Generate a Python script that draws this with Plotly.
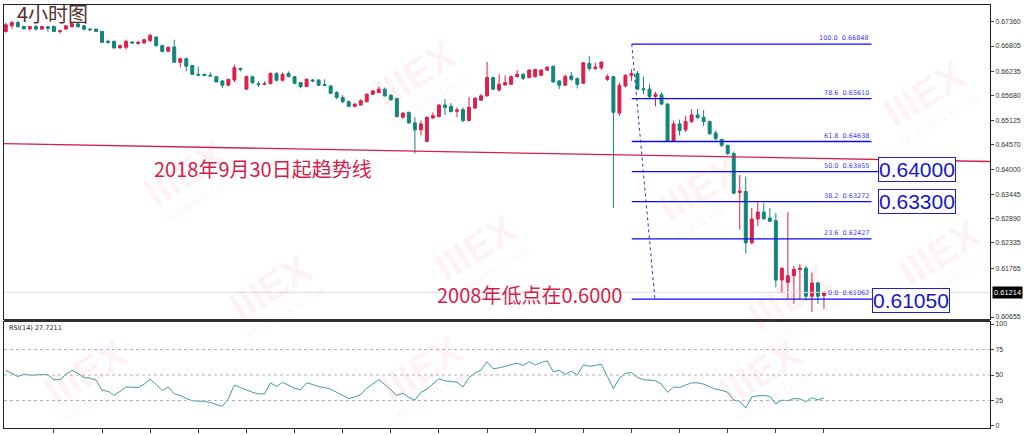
import plotly.graph_objects as go

# ---------------- data (4H candles, index 0..136) ----------------
open_ = [0.67136,0.67263,0.67338,0.67248,0.67196,0.67248,0.67189,0.67241,0.67248,0.67136,
         0.67189,0.67248,0.67308,0.67263,0.67189,0.67189,0.67136,0.66911,0.66911,0.66762,
         0.66776,0.66897,0.66865,0.66874,0.66926,0.67011,0.66814,0.66686,0.66785,0.66438,
         0.66515,0.66364,0.66162,0.66162,0.66139,0.66110,0.66012,0.65915,0.66034,0.66297,
         0.65825,0.66110,0.65952,0.65937,0.65952,0.66184,0.66027,0.66184,0.66110,0.65975,
         0.65886,0.66034,0.66034,0.65930,0.65899,0.65750,0.65638,0.65539,0.65436,0.65465,
         0.65539,0.65712,0.65750,0.65825,0.65690,0.65616,0.65189,0.65301,0.65060,0.64903,
         0.64640,0.65173,0.65202,0.65465,0.65436,0.65324,0.65360,0.65112,0.65398,0.65577,
         0.65674,0.66088,0.65809,0.65921,0.65937,0.66110,0.66162,0.66088,0.66110,0.66139,
         0.66259,0.66348,0.66012,0.65915,0.66124,0.66065,0.65960,0.66409,0.66297,0.66312,
         0.66050,0.66110,0.65285,0.65899,0.66139,0.66184,0.65836,0.65825,0.65660,0.65697,
         0.65487,0.64640,0.65038,0.64903,0.65090,0.65240,0.65189,0.65090,0.64829,0.64686,
         0.64551,0.64364,0.63481,0.63502,0.62340,0.62880,0.63037,0.62902,0.62842,0.61493,
         0.61441,0.61592,0.61733,0.61763,0.61126,0.61426,0.61141]
high = [0.67331,0.67376,0.67376,0.67263,0.67263,0.67286,0.67263,0.67263,0.67263,0.67174,
        0.67286,0.67331,0.67331,0.67286,0.67218,0.67196,0.67151,0.66949,0.66926,0.66836,
        0.66949,0.66904,0.66926,0.66971,0.67084,0.67017,0.66836,0.66791,0.66949,0.66544,
        0.66544,0.66370,0.66341,0.66184,0.66207,0.66117,0.66027,0.66060,0.66387,0.66319,
        0.66139,0.66139,0.66005,0.66005,0.66207,0.66207,0.66207,0.66229,0.66117,0.65982,
        0.66072,0.66050,0.66050,0.66050,0.65915,0.65780,0.65690,0.65577,0.65510,0.65600,
        0.65728,0.65809,0.65886,0.65863,0.65712,0.65625,0.65301,0.65310,0.65189,0.65112,
        0.65200,0.65301,0.65487,0.65600,0.65510,0.65413,0.65413,0.65652,0.65638,0.65712,
        0.66447,0.66110,0.66162,0.66139,0.66139,0.66259,0.66184,0.66274,0.66290,0.66274,
        0.66348,0.66356,0.66027,0.66162,0.66214,0.66088,0.66438,0.66573,0.66425,0.66461,
        0.66162,0.66124,0.65975,0.66162,0.66280,0.66237,0.66110,0.65937,0.65764,0.65750,
        0.65510,0.65112,0.65135,0.65224,0.65375,0.65375,0.65353,0.65112,0.64888,0.64701,
        0.64566,0.64409,0.63876,0.63840,0.63127,0.63255,0.63240,0.63127,0.63015,0.61778,
        0.63037,0.61816,0.61853,0.61816,0.61666,0.61456,0.61236]
low = [0.67106,0.67196,0.67218,0.67174,0.67151,0.67151,0.67174,0.67129,0.67129,0.67084,
       0.67174,0.67218,0.67218,0.67151,0.67151,0.67129,0.66881,0.66859,0.66746,0.66746,
       0.66724,0.66859,0.66836,0.66859,0.66904,0.66791,0.66656,0.66679,0.66431,0.66319,
       0.66229,0.66150,0.66117,0.66117,0.66117,0.65982,0.65847,0.65905,0.65982,0.66229,
       0.65814,0.65937,0.65870,0.65915,0.65937,0.66005,0.66005,0.66095,0.65937,0.65847,
       0.65870,0.65982,0.65905,0.65892,0.65712,0.65600,0.65510,0.65420,0.65413,0.65449,
       0.65524,0.65697,0.65728,0.65660,0.65562,0.65189,0.65150,0.65038,0.64364,0.64775,
       0.64626,0.65150,0.65189,0.65240,0.65301,0.65189,0.65076,0.65100,0.65375,0.65562,
       0.65660,0.65809,0.65764,0.65915,0.65915,0.66088,0.66034,0.66072,0.66088,0.66124,
       0.66237,0.65975,0.65825,0.65899,0.66012,0.65841,0.65944,0.66237,0.66259,0.66259,
       0.66012,0.63127,0.65224,0.65863,0.66012,0.65809,0.65712,0.65616,0.65436,0.65465,
       0.64626,0.64626,0.64775,0.64851,0.65060,0.65150,0.64986,0.64791,0.64663,0.64514,
       0.64326,0.63442,0.62639,0.62093,0.62302,0.62716,0.62857,0.62812,0.61329,0.61201,
       0.61066,0.60953,0.61066,0.61030,0.60767,0.60953,0.60841]
close = [0.67286,0.67338,0.67248,0.67196,0.67248,0.67189,0.67248,0.67207,0.67136,0.67151,
         0.67263,0.67308,0.67248,0.67189,0.67174,0.67136,0.66888,0.66888,0.66762,0.66814,
         0.66911,0.66874,0.66888,0.66949,0.67046,0.66814,0.66686,0.66776,0.66438,0.66515,
         0.66348,0.66162,0.66146,0.66139,0.66124,0.65989,0.65915,0.66050,0.66312,0.66274,
         0.66110,0.65975,0.65930,0.65952,0.66184,0.66027,0.66162,0.66110,0.65960,0.65886,
         0.66050,0.66012,0.65915,0.65915,0.65735,0.65638,0.65539,0.65436,0.65487,0.65562,
         0.65712,0.65787,0.65825,0.65674,0.65584,0.65202,0.65285,0.65060,0.64903,0.65038,
         0.65189,0.65224,0.65465,0.65413,0.65315,0.65353,0.65112,0.65413,0.65622,0.65674,
         0.66088,0.65825,0.65937,0.65975,0.66110,0.66162,0.66072,0.66259,0.66274,0.66259,
         0.66326,0.65989,0.65915,0.66110,0.66050,0.65937,0.66425,0.66297,0.66326,0.66438,
         0.66110,0.65301,0.65915,0.66139,0.66178,0.65825,0.65814,0.65660,0.65712,0.65487,
         0.64640,0.65038,0.64888,0.65090,0.65240,0.65180,0.65090,0.64813,0.64701,0.64551,
         0.64364,0.63464,0.63516,0.62340,0.62880,0.63037,0.62887,0.62828,0.61493,0.61763,
         0.61592,0.61740,0.61763,0.61126,0.61426,0.61126,0.61214]
rsi = [54.6,51.5,48.5,50.9,49.8,50.0,50.6,50.0,45.4,45.4,50.6,54.6,51.5,47.5,46.9,45.0,35.0,34.0,30.0,34.0,
       38.3,38.0,37.7,41.0,46.0,40.7,34.6,38.3,31.5,30.0,26.9,24.7,24.5,24.1,23.0,21.0,19.1,26.9,40.1,37.7,
       35.0,33.0,31.5,31.5,42.3,38.6,42.9,40.1,37.0,35.5,42.3,40.7,38.5,37.7,36.1,33.0,30.0,26.9,28.5,30.9,
       37.0,41.4,45.4,40.7,35.5,30.0,32.1,28.0,25.3,33.0,36.1,41.0,46.3,44.4,43.5,42.9,38.3,47.5,52.0,54.9,
       63.0,56.2,57.0,58.5,59.9,61.7,59.3,63.0,59.9,62.3,63.9,53.1,54.6,50.6,53.7,50.0,59.9,58.6,59.3,60.5,
       48.5,36.7,46.9,51.5,52.5,47.5,45.4,45.0,44.4,41.0,33.0,38.3,37.7,40.1,42.3,42.3,41.0,38.5,36.1,35.0,
       33.0,25.3,24.4,17.6,28.4,29.5,29.9,29.0,21.6,25.3,24.7,26.9,26.5,23.8,27.8,25.5,27.7]

price_ticks = [0.67360,0.66805,0.66235,0.65680,0.65125,0.64570,0.64000,0.63445,0.62890,0.62335,0.61765,0.60655]
price_tick_text = ["0.67360","0.66805","0.66235","0.65680","0.65125","0.64570","0.64000","0.63445",
                   "0.62890","0.62335","0.61765","0.60655"]
rsi_ticks = [0, 25, 50, 75, 100]
rsi_levels = [25, 50, 75]
current_price = 0.61214
rsi_last = "27.7211"

fib_pct = ["100.0", "78.6", "61.8", "50.0", "38.2", "23.6", "0.0"]
fib_price = [0.66848, 0.65610, 0.64638, 0.63955, 0.63272, 0.62427, 0.61062]
fib_start_bar = 104.05
fib_end_bar = 143.9
fib_low_bar = 107.9

trend_prices = [0.64588, 0.64184]      # trend line (from 2018-09-30) at left / right edge
boxed_levels = ["0.64000", "0.63300", "0.61050"]
boxed_prices = [0.64004, 0.63284, 0.61025]
boxed_bars = [151.5, 151.5, 150.5]

title_text = "4小时图"
trend_label = "2018年9月30日起趋势线"
low_label = "2008年低点在0.6000"

# ---------------- layout geometry ----------------
W, H = 1024, 435
ML, MR, MT, MB = 3, 33, 5, 3
X0, X1 = -0.3, 163.6
Y_MAIN = [0.60609, 0.67736]
Y_RSI = [-2, 102]
PW = W - ML - MR
PH = H - MT - MB
main_dom = [(H - MB - 322) / PH, 1.0]
rsi_dom = [0.0, (H - MB - 325) / PH]

def px_x(px):
    return (px - ML) / PW

def px_y(py):
    return (H - MB - py) / PH

RED = "#dc1f4c"
TEAL = "#11857a"
BLUE = "#0b0bf0"
CRIMSON = "#d41e4a"

n = len(close)
bars = list(range(n))

fig = go.Figure()
fig.add_trace(go.Candlestick(
    x=bars, open=open_, high=high, low=low, close=close,
    increasing=dict(line=dict(color=RED, width=1), fillcolor=RED),
    decreasing=dict(line=dict(color=TEAL, width=1), fillcolor=TEAL),
    whiskerwidth=0, xaxis="x", yaxis="y", showlegend=False, hoverinfo="skip"))

# trend line
fig.add_trace(go.Scatter(x=[X0, X1], y=trend_prices, mode="lines",
                         line=dict(color=CRIMSON, width=1.3), xaxis="x", yaxis="y",
                         showlegend=False, hoverinfo="skip"))

# current price (bid) line
fig.add_trace(go.Scatter(x=[X0, X1], y=[current_price, current_price], mode="lines",
                         line=dict(color="#dddddd", width=1), xaxis="x", yaxis="y",
                         showlegend=False, hoverinfo="skip"))

# fib levels
for pct, p in zip(fib_pct, fib_price):
    end = fib_end_bar
    if pct == "50.0":
        end = 147.3
    elif pct == "0.0":
        end = 144.4
    fig.add_trace(go.Scatter(x=[fib_start_bar, end], y=[p, p], mode="lines",
                             line=dict(color=BLUE, width=1.3), xaxis="x", yaxis="y",
                             showlegend=False, hoverinfo="skip"))
fig.add_trace(go.Scatter(x=[fib_start_bar, fib_low_bar], y=[fib_price[0], fib_price[-1]], mode="lines",
                         line=dict(color="#3030d0", width=1, dash="dot"), xaxis="x", yaxis="y",
                         showlegend=False, hoverinfo="skip"))

# RSI
fig.add_trace(go.Scatter(x=bars, y=rsi, mode="lines", line=dict(color="#3f9c98", width=1),
                         xaxis="x2", yaxis="y2", showlegend=False, hoverinfo="skip"))

annotations = []
shapes = []

# watermarks (kept fully inside the picture)
wm = [(415, 75), (925, 95), (185, 175), (475, 250), (700, 190), (940, 255),
      (270, 290), (790, 300), (420, 372), (760, 375), (85, 375)]
for (cx, cy) in wm:
    annotations.append(dict(x=px_x(cx), y=px_y(cy), xref="paper", yref="paper", text="<b>IIIEX</b>",
                            showarrow=False, textangle=-32, xanchor="center", yanchor="middle",
                            font=dict(family="Liberation Sans", size=40, color="rgba(225,70,95,0.08)")))
    annotations.append(dict(x=px_x(cx + 16), y=px_y(cy + 25), xref="paper", yref="paper",
                            text="MultiBank Group", showarrow=False, textangle=-32,
                            xanchor="center", yanchor="middle",
                            font=dict(family="Liberation Sans", size=12, color="rgba(225,70,95,0.08)")))

# fib labels
for pct, p in zip(fib_pct, fib_price):
    annotations.append(dict(x=fib_end_bar, y=p, xref="x", yref="y", text=f"{pct}  {p:.5f}",
                            showarrow=False, xanchor="right", yanchor="bottom", yshift=0,
                            font=dict(family="DejaVu Sans", size=6.5, color="#3a3af0")))

# boxed price levels
for txt, p, b in zip(boxed_levels, boxed_prices, boxed_bars):
    annotations.append(dict(x=b, y=p, xref="x", yref="y", text=txt, showarrow=False,
                            xanchor="center", yanchor="middle",
                            font=dict(family="Liberation Sans", size=21, color="#1515c8"),
                            bgcolor="white", bordercolor="#2020d0", borderwidth=1, borderpad=0))

# text labels
annotations.append(dict(x=px_x(52), y=px_y(14), xref="paper", yref="paper", text=title_text,
                        xanchor="center", yanchor="middle",
                        showarrow=False, font=dict(family="Noto Sans CJK SC", size=20, color="#553030")))
annotations.append(dict(x=px_x(263), y=px_y(170), xref="paper", yref="paper", text=trend_label,
                        xanchor="center", yanchor="middle",
                        showarrow=False, font=dict(family="Noto Sans CJK SC", size=20, color=CRIMSON)))
annotations.append(dict(x=px_x(530), y=px_y(297), xref="paper", yref="paper", text=low_label,
                        xanchor="center", yanchor="middle",
                        showarrow=False, font=dict(family="Noto Sans CJK SC", size=20, color=CRIMSON)))
annotations.append(dict(x=px_x(6), y=px_y(331), xref="paper", yref="paper", xanchor="left", yanchor="middle",
                        text=f"RSI(14) {rsi_last}", showarrow=False,
                        font=dict(family="DejaVu Sans", size=6.5, color="#222222")))
# current price tag
annotations.append(dict(x=1.0, y=current_price, xref="paper", yref="y", xanchor="left", yanchor="middle",
                        xshift=2, text=f"{current_price:.5f}", showarrow=False, bgcolor="#000000",
                        font=dict(family="Liberation Sans", size=7.5, color="white"), borderpad=1))

for lv in rsi_levels:
    shapes.append(dict(type="line", xref="x2 domain", yref="y2", x0=0, x1=1, y0=lv, y1=lv,
                       line=dict(color="#b0b0b0", width=1, dash="dot")))
# dark separator between panels
shapes.append(dict(type="rect", xref="paper", yref="paper", x0=0, x1=1,
                   y0=px_y(325), y1=px_y(322), fillcolor="#303030", line=dict(width=0)))

fig.update_layout(
    width=W, height=H, margin=dict(l=ML, r=MR, t=MT, b=MB),
    paper_bgcolor="white", plot_bgcolor="white",
    xaxis=dict(domain=[0, 1], range=[X0, X1], showticklabels=False, showgrid=False, zeroline=False,
               showline=True, mirror=True, linecolor="#202020", linewidth=1, rangeslider=dict(visible=False),
               anchor="y", ticks=""),
    xaxis2=dict(domain=[0, 1], range=[X0, X1], showticklabels=False, showgrid=False, zeroline=False,
                showline=True, mirror=True, linecolor="#202020", linewidth=1, anchor="y2",
                ticks="outside", ticklen=4, tickcolor="#404040", tickvals=list(range(8, n, 8))),
    yaxis=dict(domain=main_dom, range=Y_MAIN, side="right", tickvals=price_ticks, ticktext=price_tick_text,
               ticks="outside", ticklen=3, tickcolor="#404040", showgrid=False, zeroline=False,
               showline=True, mirror=True, linecolor="#202020", linewidth=1,
               tickfont=dict(family="Liberation Sans", size=7, color="#333333"), anchor="x"),
    yaxis2=dict(domain=rsi_dom, range=Y_RSI, side="right", tickvals=rsi_ticks,
                ticks="outside", ticklen=3, tickcolor="#404040", showgrid=False, zeroline=False,
                showline=True, mirror=True, linecolor="#202020", linewidth=1,
                tickfont=dict(family="Liberation Sans", size=7, color="#333333"), anchor="x2"),
    annotations=annotations, shapes=shapes, showlegend=False,
)

fig.write_html("out.html", config={"displayModeBar": False},
               post_script="document.body.style.margin='0';document.body.style.overflow='hidden';")
